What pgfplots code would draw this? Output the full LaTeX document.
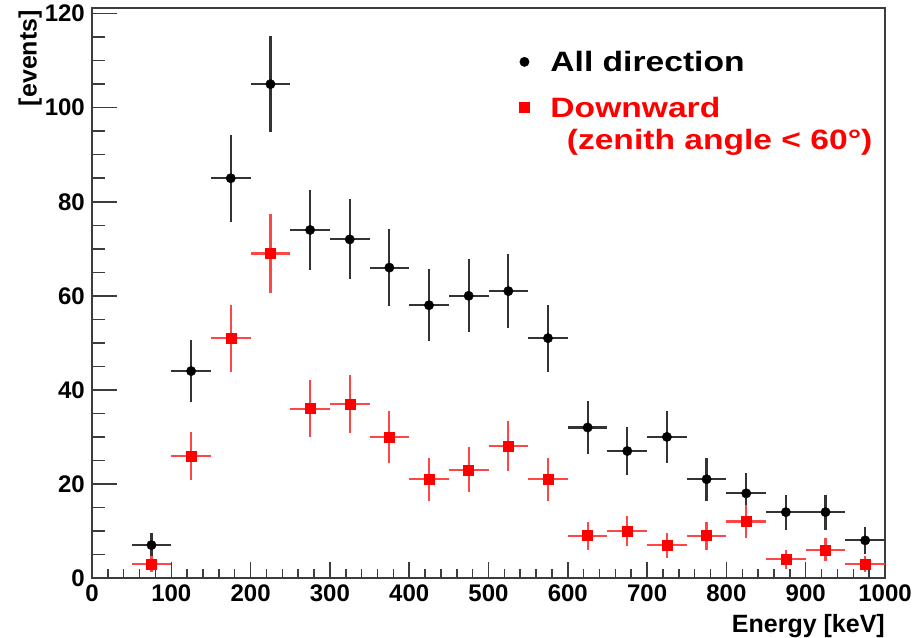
\documentclass[border=0pt]{standalone}
\usepackage{pgfplots}
\pgfplotsset{compat=1.18}
\usepackage{pgfplotstable}
\usepackage{fontspec}
\setmainfont{Liberation Sans}
\newfontfamily\legfont[FakeStretch=1.2]{Liberation Sans}

\definecolor{rootred}{RGB}{255,0,0}
\definecolor{barred}{RGB}{255,70,70}
\definecolor{frame}{RGB}{60,60,60}

% bin centre, counts, half bin width, sqrt(counts)
\pgfplotstableread{
x y ex ey
75 7 25 2.65
125 44 25 6.63
175 85 25 9.22
225 105 25 10.25
275 74 25 8.60
325 72 25 8.49
375 66 25 8.12
425 58 25 7.62
475 60 25 7.75
525 61 25 7.81
575 51 25 7.14
625 32 25 5.66
675 27 25 5.20
725 30 25 5.48
775 21 25 4.58
825 18 25 4.24
875 14 25 3.74
925 14 25 3.74
975 8 25 2.83
}\alldir

\pgfplotstableread{
x y ex ey
75 3 25 1.73
125 26 25 5.10
175 51 25 7.14
225 69 25 8.31
275 36 25 6.00
325 37 25 6.08
375 30 25 5.48
425 21 25 4.58
475 23 25 4.80
525 28 25 5.29
575 21 25 4.58
625 9 25 3.00
675 10 25 3.16
725 7 25 2.65
775 9 25 3.00
825 12 25 3.46
875 4 25 2.00
925 6 25 2.45
975 3 25 1.73
}\downward

\begin{document}
\begin{tikzpicture}
\begin{axis}[
    scale only axis,
    width=793pt, height=570pt,
    xmin=0, xmax=1000,
    ymin=0, ymax=121.2,
    xtick={0,100,...,1000},
    ytick={0,20,...,120},
    minor x tick num=4,
    minor y tick num=3,
    tick align=inside,
    xtick pos=bottom, ytick pos=left,
    axis line style={line width=1.5pt, frame},
    tick style={line width=1.5pt, frame},
    xtick style={/pgfplots/major tick length=16pt, /pgfplots/minor tick length=9pt},
    ytick style={/pgfplots/major tick length=25pt, /pgfplots/minor tick length=13pt},
    /pgf/number format/assume math mode=true,
    /pgf/number format/1000 sep={},
    tick label style={font=\bfseries\fontsize{24}{28}\selectfont},
    xticklabel style={inner sep=0pt, yshift=-7pt},
    yticklabel style={inner sep=0pt, xshift=-7pt},
    xlabel={Energy [keV]},
    ylabel={[events]},
    label style={font=\bfseries\fontsize{25}{28}\selectfont, inner sep=0pt},
    xlabel style={at={(axis description cs:1,-0.063)}, anchor=north east},
    ylabel style={at={(axis description cs:-0.063,0.9965)}, anchor=south east},
    legend style={draw=none, fill=none, at={(axis description cs:0.535,0.932)},
        anchor=north west, font=\legfont\bfseries\fontsize{28}{30}\selectfont,
        row sep=20pt, column sep=19pt},
    legend cell align=left,
]
\addplot[only marks, mark=*, mark size=4.7pt, black,
    error bars/.cd, x dir=both, x explicit, y dir=both, y explicit,
    error mark=none, error bar style={line width=2.2pt, black!80}]
    table[x=x, y=y, x error=ex, y error=ey] {\alldir};
\addlegendentry{All direction}
\addplot[only marks, mark=square*, mark size=5pt, rootred,
    error bars/.cd, x dir=both, x explicit, y dir=both, y explicit,
    error mark=none, error bar style={line width=2.2pt, barred}]
    table[x=x, y=y, x error=ex, y error=ey] {\downward};
\addlegendentry{\textcolor{rootred}{Downward}}
\node[anchor=west, inner sep=0pt, text=rootred,
    font=\legfont\bfseries\fontsize{28}{30}\selectfont]
    at (axis description cs:0.5985,0.765) {(zenith angle < 60°)};
\end{axis}
\pgfresetboundingbox
\path[use as bounding box] (-92pt,-59pt) rectangle (826pt,578pt);
\end{tikzpicture}
\end{document}
